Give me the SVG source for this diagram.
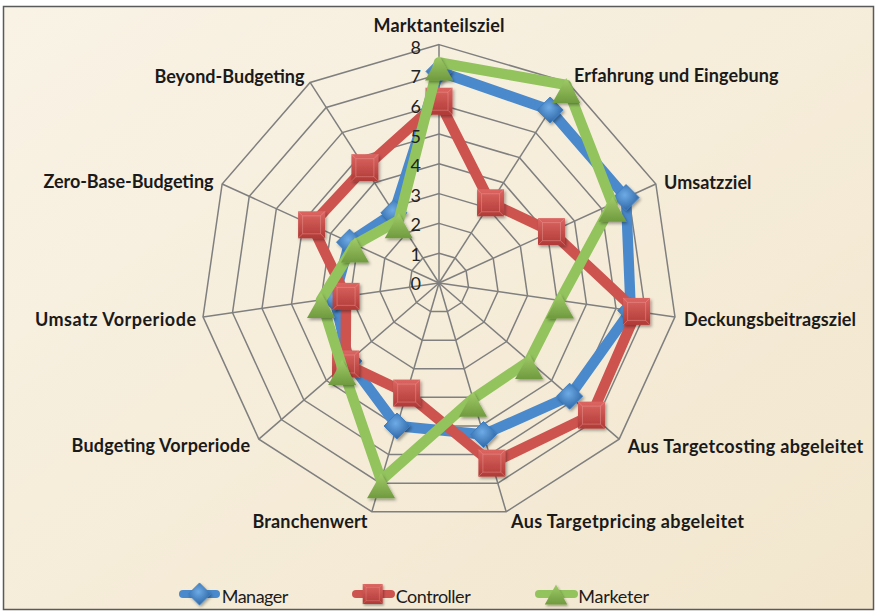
<svg xmlns="http://www.w3.org/2000/svg" xmlns:xlink="http://www.w3.org/1999/xlink" width="877" height="614" viewBox="0 0 877 614">
  <style>
    .lbl { font-family: Lato, "Liberation Sans", sans-serif; font-weight: bold; font-size: 18px; fill: #1a1a1a; }
    .tick { font-family: Lato, "Liberation Sans", sans-serif; font-size: 18px; fill: #222; text-anchor: end; }
    .leg { font-family: Lato, "Liberation Sans", sans-serif; font-size: 18px; fill: #1c1c1c; }
    .grid { fill: none; stroke: #7f7f7f; }
    .spoke { stroke: #7f7f7f; stroke-width: 1.5; }
    .series { fill: none; stroke-width: 10.5; stroke-linejoin: round; stroke-linecap: round; }
  </style>
  <defs>
    <linearGradient id="bg" x1="0" y1="0" x2="1" y2="1">
      <stop offset="0" stop-color="#f9f3e6"/>
      <stop offset="1" stop-color="#f2e6cd"/>
    </linearGradient>
    <radialGradient id="gBlue" cx="0.45" cy="0.4" r="0.6">
      <stop offset="0" stop-color="#6eabe6"/>
      <stop offset="1" stop-color="#2f67a6"/>
    </radialGradient>
    <linearGradient id="gRed" x1="0" y1="0" x2="0" y2="1">
      <stop offset="0" stop-color="#dc6662"/>
      <stop offset="1" stop-color="#b03a36"/>
    </linearGradient>
    <linearGradient id="gGreen" x1="0" y1="0" x2="0" y2="1">
      <stop offset="0" stop-color="#a2cc69"/>
      <stop offset="1" stop-color="#6f9a3e"/>
    </linearGradient>
    <filter id="shadow" x="-40%" y="-40%" width="180%" height="180%">
      <feGaussianBlur in="SourceGraphic" stdDeviation="0.5" result="soft"/>
      <feDropShadow in="soft" dx="1.5" dy="2" stdDeviation="1.6" flood-color="#000" flood-opacity="0.35"/>
    </filter>
    <!-- unit ring of the 11-axis net (value 1) -->
    <polygon id="ring" points="0,-29.8 16.111,-25.069 27.107,-12.38 29.497,4.241 22.521,19.515 8.396,28.593 -8.396,28.593 -22.521,19.515 -29.497,4.241 -27.107,-12.38 -16.111,-25.069"/>
    <!-- series markers -->
    <g id="dia" filter="url(#shadow)">
      <polygon points="0,-13 13,0 0,13 -13,0" fill="url(#gBlue)" stroke="#3f7fc2" stroke-width="1" stroke-linejoin="round"/>
    </g>
    <g id="sq" filter="url(#shadow)">
      <rect x="-13.5" y="-13.5" width="27" height="27" fill="url(#gRed)"/>
      <path d="M-13.5,-13.5 L-9,-9 M13.5,-13.5 L9,-9 M13.5,13.5 L9,9 M-13.5,13.5 L-9,9 M-9,-9 H9 V9 H-9 Z" fill="none" stroke="#f0a09c" stroke-width="0.7" opacity="0.6"/>
    </g>
    <g id="tri" filter="url(#shadow)">
      <polygon points="0,-7 14,18 -14,18" fill="url(#gGreen)"/>
    </g>
  </defs>

  <!-- chart area -->
  <rect x="0" y="0" width="877" height="614" fill="#ffffff"/>
  <rect x="3.5" y="6.5" width="870" height="603" fill="url(#bg)" stroke="#5a5a5a" stroke-width="1.5"/>

  <!-- radar grid -->
  <g id="grid" class="grid">
    <use xlink:href="#ring" transform="translate(439 283) scale(1)" stroke-width="1.5"/>
    <use xlink:href="#ring" transform="translate(439 283) scale(2)" stroke-width="0.75"/>
    <use xlink:href="#ring" transform="translate(439 283) scale(3)" stroke-width="0.5"/>
    <use xlink:href="#ring" transform="translate(439 283) scale(4)" stroke-width="0.375"/>
    <use xlink:href="#ring" transform="translate(439 283) scale(5)" stroke-width="0.3"/>
    <use xlink:href="#ring" transform="translate(439 283) scale(6)" stroke-width="0.25"/>
    <use xlink:href="#ring" transform="translate(439 283) scale(7)" stroke-width="0.2143"/>
    <use xlink:href="#ring" transform="translate(439 283) scale(8)" stroke-width="0.1875"/>
  </g>
  <g id="spokes" class="spoke">
    <line x1="439" y1="283" x2="439" y2="44.6"/>
    <line x1="439" y1="283" x2="567.89" y2="82.45"/>
    <line x1="439" y1="283" x2="655.86" y2="183.96"/>
    <line x1="439" y1="283" x2="674.98" y2="316.93"/>
    <line x1="439" y1="283" x2="619.17" y2="439.12"/>
    <line x1="439" y1="283" x2="506.17" y2="511.74"/>
    <line x1="439" y1="283" x2="371.83" y2="511.74"/>
    <line x1="439" y1="283" x2="258.83" y2="439.12"/>
    <line x1="439" y1="283" x2="203.02" y2="316.93"/>
    <line x1="439" y1="283" x2="222.14" y2="183.96"/>
    <line x1="439" y1="283" x2="310.11" y2="82.45"/>
  </g>

  <!-- axis labels -->
  <g id="axis-labels">
    <text class="lbl" x="373.5" y="31.5" textLength="131">Marktanteilsziel</text>
    <text class="lbl" x="574" y="82" textLength="204.5">Erfahrung und Eingebung</text>
    <text class="lbl" x="664" y="188.5" textLength="87.6">Umsatzziel</text>
    <text class="lbl" x="684" y="326" textLength="172">Deckungsbeitragsziel</text>
    <text class="lbl" x="627.7" y="453" textLength="235.6">Aus Targetcosting abgeleitet</text>
    <text class="lbl" x="511" y="527.8" textLength="233">Aus Targetpricing abgeleitet</text>
    <text class="lbl" x="252.5" y="527.8" textLength="115">Branchenwert</text>
    <text class="lbl" x="71.6" y="452" textLength="178.4">Budgeting Vorperiode</text>
    <text class="lbl" x="35" y="326" textLength="161">Umsatz Vorperiode</text>
    <text class="lbl" x="43.5" y="188" textLength="170">Zero-Base-Budgeting</text>
    <text class="lbl" x="154.5" y="82.5" textLength="150">Beyond-Budgeting</text>
  </g>

  <!-- data series -->
  <g id="series-manager">
    <polygon class="series" stroke="#4a89cc" points="439,71.42 550.17,110.02 626.04,197.58 630.73,310.57 569.62,396.19 483.5,434.54 397.02,425.97 348.92,361.06 334.29,298.06 349.55,242.15 393.89,212.81"/>
    <use xlink:href="#dia" x="439" y="71.42"/>
    <use xlink:href="#dia" x="550.17" y="110.02"/>
    <use xlink:href="#dia" x="626.04" y="197.58"/>
    <use xlink:href="#dia" x="630.73" y="310.57"/>
    <use xlink:href="#dia" x="569.62" y="396.19"/>
    <use xlink:href="#dia" x="483.5" y="434.54"/>
    <use xlink:href="#dia" x="397.02" y="425.97"/>
    <use xlink:href="#dia" x="348.92" y="361.06"/>
    <use xlink:href="#dia" x="334.29" y="298.06"/>
    <use xlink:href="#dia" x="349.55" y="242.15"/>
    <use xlink:href="#dia" x="393.89" y="212.81"/>
  </g>
  <g id="series-controller">
    <polygon class="series" stroke="#cd534f" points="439,101.22 490.56,202.78 551.49,231.62 636.63,311.41 591.47,415.12 491.89,463.14 406.68,393.08 345.54,363.99 346.08,296.36 311.6,224.81 364.89,167.68"/>
    <use xlink:href="#sq" x="439" y="101.22"/>
    <use xlink:href="#sq" x="490.56" y="202.78"/>
    <use xlink:href="#sq" x="551.49" y="231.62"/>
    <use xlink:href="#sq" x="636.63" y="311.41"/>
    <use xlink:href="#sq" x="591.47" y="415.12"/>
    <use xlink:href="#sq" x="491.89" y="463.14"/>
    <use xlink:href="#sq" x="406.68" y="393.08"/>
    <use xlink:href="#sq" x="345.54" y="363.99"/>
    <use xlink:href="#sq" x="346.08" y="296.36"/>
    <use xlink:href="#sq" x="311.6" y="224.81"/>
    <use xlink:href="#sq" x="364.89" y="167.68"/>
  </g>
  <g id="series-marketer">
    <polygon class="series" stroke="#92c35d" points="439,62.48 566.28,84.95 612.48,203.77 559.94,300.39 529.08,361.06 473,398.8 381.07,480.29 342.16,366.91 321.01,299.96 354.97,244.62 398.72,220.33"/>
    <use xlink:href="#tri" x="439" y="62.48"/>
    <use xlink:href="#tri" x="566.28" y="84.95"/>
    <use xlink:href="#tri" x="612.48" y="203.77"/>
    <use xlink:href="#tri" x="559.94" y="300.39"/>
    <use xlink:href="#tri" x="529.08" y="361.06"/>
    <use xlink:href="#tri" x="473" y="398.8"/>
    <use xlink:href="#tri" x="381.07" y="480.29"/>
    <use xlink:href="#tri" x="342.16" y="366.91"/>
    <use xlink:href="#tri" x="321.01" y="299.96"/>
    <use xlink:href="#tri" x="354.97" y="244.62"/>
    <use xlink:href="#tri" x="398.72" y="220.33"/>
  </g>

  <!-- value scale, drawn over the series -->
  <g id="scale">
    <text class="tick" x="421" y="290.3">0</text>
    <text class="tick" x="421" y="260.8">1</text>
    <text class="tick" x="421" y="231.2">2</text>
    <text class="tick" x="421" y="201.6">3</text>
    <text class="tick" x="421" y="172.1">4</text>
    <text class="tick" x="421" y="142.5">5</text>
    <text class="tick" x="421" y="112.9">6</text>
    <text class="tick" x="421" y="83.4">7</text>
    <text class="tick" x="421" y="53.8">8</text>
  </g>

  <!-- legend -->
  <g id="legend">
    <g id="legend-manager">
      <line x1="183" y1="594" x2="216" y2="594" stroke="#4a89cc" stroke-width="8" stroke-linecap="round"/>
      <use xlink:href="#dia" transform="translate(199.5 594) scale(0.85)"/>
      <text class="leg" x="221.7" y="603.3" textLength="66.7">Manager</text>
    </g>
    <g id="legend-controller">
      <line x1="356" y1="594" x2="391" y2="594" stroke="#cd534f" stroke-width="8" stroke-linecap="round"/>
      <use xlink:href="#sq" transform="translate(372.7 594) scale(0.74)"/>
      <text class="leg" x="395.7" y="603.3" textLength="75">Controller</text>
    </g>
    <g id="legend-marketer">
      <line x1="539" y1="594" x2="574" y2="594" stroke="#92c35d" stroke-width="8" stroke-linecap="round"/>
      <use xlink:href="#tri" transform="translate(556 590) scale(0.8)"/>
      <text class="leg" x="578.3" y="603.3" textLength="70.7">Marketer</text>
    </g>
  </g>
</svg>
